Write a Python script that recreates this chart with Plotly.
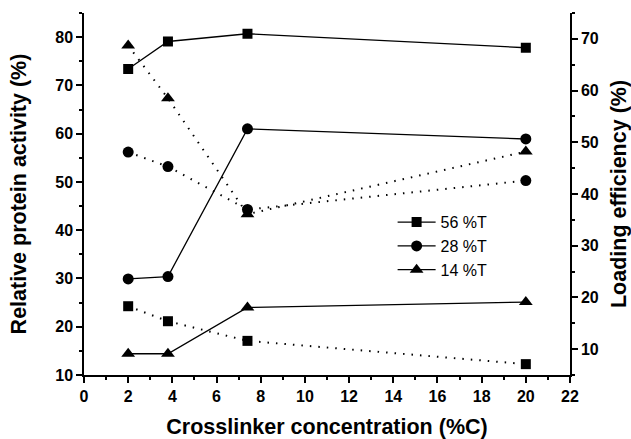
import plotly.graph_objects as go

x_conc = [2, 3.8, 7.4, 20]

# Relative protein activity (%) - solid lines, left axis
act_56 = [73.4, 79.1, 80.7, 77.8]
act_28 = [29.9, 30.4, 61.0, 58.9]
act_14 = [14.4, 14.4, 24.0, 25.1]

# Loading efficiency (%) - dotted lines, right axis
load_56 = [18.3, 15.4, 11.6, 7.1]
load_28 = [48.1, 45.3, 37.0, 42.6]
load_14 = [68.7, 58.5, 36.1, 48.2]

names = ["56 %T", "28 %T", "14 %T"]
symbols = ["square", "circle", "triangle-up"]
sizes = [10, 11, 12]

FONT = "Arial, Liberation Sans, sans-serif"

fig = go.Figure()

for name, sym, sz, ys in zip(names, symbols, sizes, [act_56, act_28, act_14]):
    fig.add_trace(go.Scatter(
        x=x_conc, y=ys, mode="lines+markers", name=name,
        line=dict(color="black", width=1.3),
        marker=dict(symbol=sym, size=sz, color="black"),
        yaxis="y",
    ))

for name, sym, sz, ys in zip(names, symbols, sizes, [load_56, load_28, load_14]):
    fig.add_trace(go.Scatter(
        x=x_conc, y=ys, mode="lines+markers", name=name + " loading",
        line=dict(color="black", width=2, dash="1.5px,7px"),
        marker=dict(symbol=sym, size=sz, color="black"),
        yaxis="y2", showlegend=False,
    ))

axis_common = dict(
    showline=True, linecolor="black", linewidth=1.5,
    ticks="outside", ticklen=6, tickwidth=1.5, tickcolor="black",
    showgrid=False, zeroline=False, automargin=False,
    tickfont=dict(family=FONT, size=16, color="black", weight="bold"),
)

TITLE_FONT = dict(family=FONT, size=21.5, weight="bold", color="black")

fig.update_layout(
    width=631, height=439,
    margin=dict(l=84, r=61, t=13, b=64),
    plot_bgcolor="white", paper_bgcolor="white",
    font=dict(family=FONT, color="black"),
    xaxis=dict(
        range=[0, 22], dtick=2, tick0=0,
        minor=dict(dtick=1, ticks="outside", ticklen=3, tickwidth=1.5, tickcolor="black"),
        title=dict(text="Crosslinker concentration (%C)", font=TITLE_FONT, standoff=15),
        **axis_common,
    ),
    yaxis=dict(
        range=[10, 85], dtick=10, tick0=10,
        minor=dict(dtick=5, tick0=10, ticks="outside", ticklen=3, tickwidth=1.5, tickcolor="black"),
        title=dict(text="Relative protein activity (%)", font=TITLE_FONT, standoff=23),
        **axis_common,
    ),
    yaxis2=dict(
        range=[5, 75], dtick=10, tick0=10,
        overlaying="y", side="right",
        minor=dict(dtick=5, tick0=10, ticks="outside", ticklen=3, tickwidth=1.5, tickcolor="black"),
        title=dict(text="Loading efficiency (%)", font=TITLE_FONT, standoff=13),
        **axis_common,
    ),
    legend=dict(
        x=0.635, y=0.469, xanchor="left", yanchor="top",
        bgcolor="rgba(0,0,0,0)",
        font=dict(family=FONT, size=16, color="black"),
        itemwidth=38, tracegroupgap=0,
    ),
    showlegend=True,
)

fig.write_html("out.html")
